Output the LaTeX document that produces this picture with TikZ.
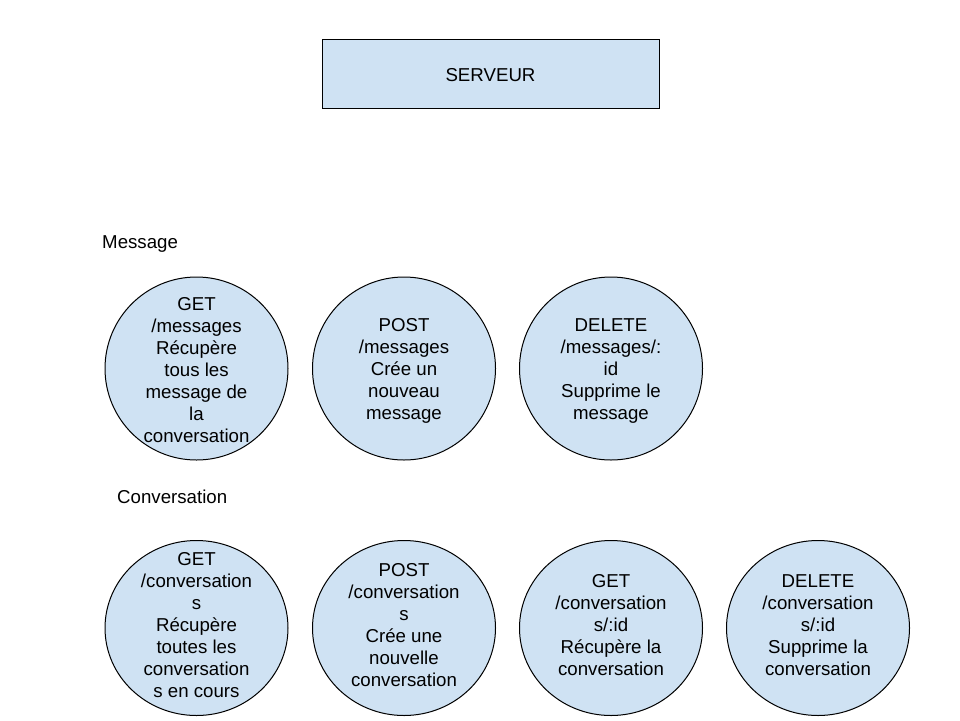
\documentclass[tikz,border=0pt]{standalone}
\usepackage{fontspec}
\setmainfont{Liberation Sans}
\usetikzlibrary{shapes.geometric}
\definecolor{fillblue}{HTML}{CFE2F3}
\tikzset{
  servbox/.style={draw=black, fill=fillblue, line width=1pt, rectangle, inner sep=0pt, minimum width=337pt, minimum height=69pt},
  bubbleA/.style={draw=black, fill=fillblue, line width=1pt, ellipse, inner sep=0pt, minimum width=183pt, minimum height=183pt},
  bubbleB/.style={draw=black, fill=fillblue, line width=1pt, ellipse, inner sep=0pt, minimum width=183pt, minimum height=175pt},
  btext/.style={align=center, inner sep=0pt},
  heading/.style={anchor=west, inner sep=0pt}
}
\begin{document}
\begin{tikzpicture}[x=1pt, y=-1pt, font=\fontsize{18.67}{22}\selectfont]
\useasboundingbox (0,0) rectangle (960,720);
\fill[white] (0,0) rectangle (960,720);

\node[servbox] (srv) at (490.5,73.5) {};
\node[btext] (srvt) at ([yshift=-2pt]srv.center) {SERVEUR};

\node[heading] (msg) at (102,244) {Message};
\node[heading] (conv) at (117,497) {Conversation};

% Message row
\node[bubbleA] (m1) at (196.5,368.5) {};
\node[btext] (m1t) at ([yshift=-2pt]m1.center) {GET\\/messages\\Récupère\\tous les\\message de\\la\\conversation};
\node[bubbleA] (m2) at (404,368.5) {};
\node[btext] (m2t) at ([yshift=-2.5pt]m2.center) {POST\\/messages\\Crée un\\nouveau\\message};
\node[bubbleA] (m3) at (611,368.5) {};
\node[btext] (m3t) at ([yshift=-2.5pt]m3.center) {DELETE\\/messages/:\\id\\Supprime le\\message};

% Conversation row
\node[bubbleB] (c1) at (196.5,628) {};
\node[btext] (c1t) at ([yshift=3pt]c1.center) {GET\\/conversation\\s\\Récupère\\toutes les\\conversation\\s en cours};
\node[bubbleB] (c2) at (404,628) {};
\node[btext] (c2t) at ([yshift=3pt]c2.center) {POST\\/conversation\\s\\Crée une\\nouvelle\\conversation};
\node[bubbleB] (c3) at (611,628) {};
\node[btext] (c3t) at ([yshift=3pt]c3.center) {GET\\/conversation\\s/:id\\Récupère la\\conversation};
\node[bubbleB] (c4) at (818,628) {};
\node[btext] (c4t) at ([yshift=3pt]c4.center) {DELETE\\/conversation\\s/:id\\Supprime la\\conversation};
\end{tikzpicture}
\end{document}
